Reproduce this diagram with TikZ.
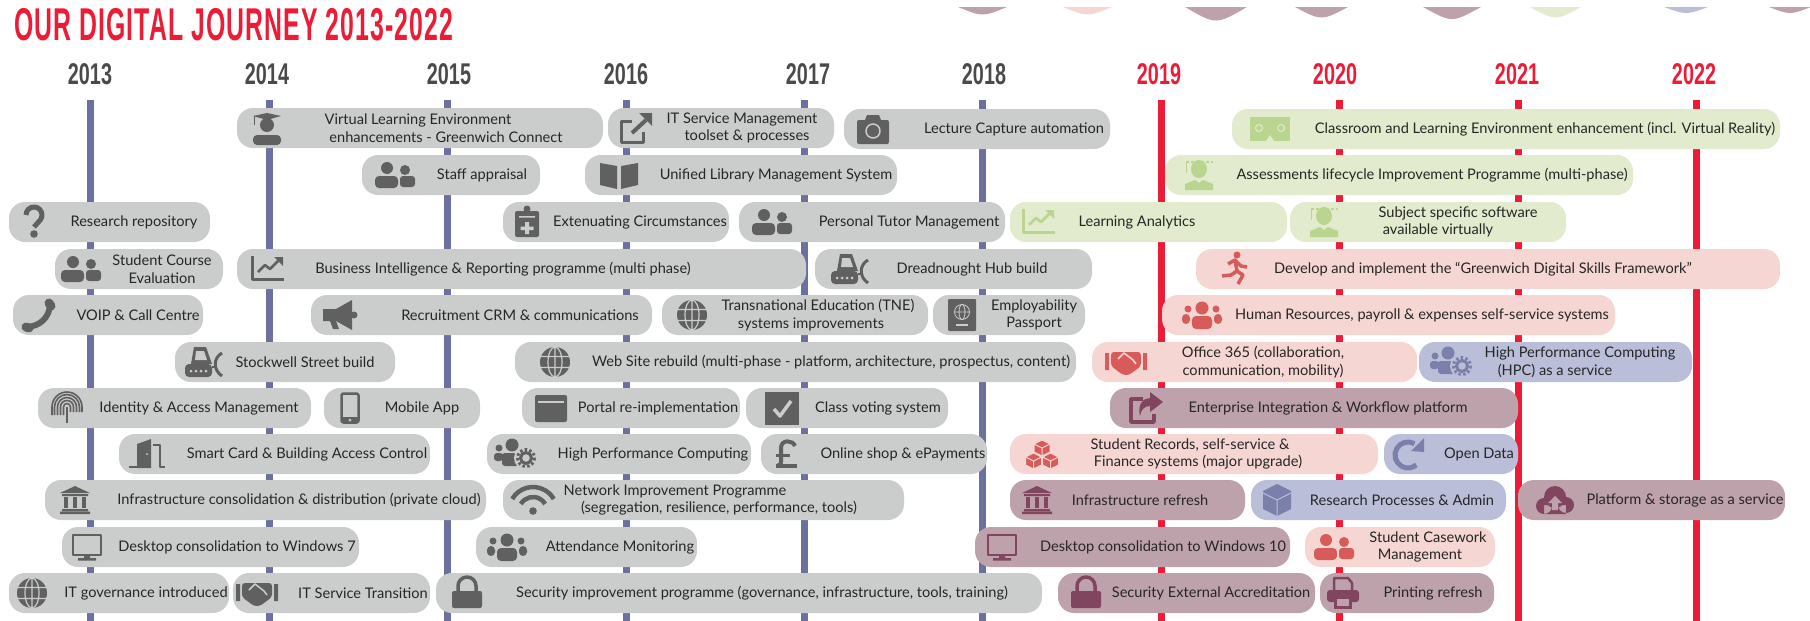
\documentclass[tikz,border=0pt]{standalone}
\usepackage{fontspec}
\setmainfont{Lato}
\newfontfamily\titlefont[FakeStretch=0.54,LetterSpace=2.3]{Liberation Sans}
\newfontfamily\yearfont[FakeStretch=0.66]{Liberation Sans}
\definecolor{linered}{HTML}{ED1C36}
\definecolor{lineblue}{HTML}{6B709F}
\definecolor{yeargrey}{HTML}{4A4A4A}
\definecolor{greyfill}{HTML}{CBCDCC}
\definecolor{greyink}{HTML}{606060}
\definecolor{greenfill}{HTML}{E2EBCD}
\definecolor{greenink}{HTML}{B9D58F}
\definecolor{pinkfill}{HTML}{F5D6D3}
\definecolor{pinkink}{HTML}{D75C59}
\definecolor{mauvefill}{HTML}{BEA2AB}
\definecolor{mauveink}{HTML}{824560}
\definecolor{bluefill}{HTML}{BABED8}
\definecolor{blueink}{HTML}{7B80AB}
\tikzset{
	pill/.style={rectangle,rounded corners=16pt,inner sep=0pt,minimum height=40pt},
	lbl/.style={inner sep=0pt,align=center,text=black!85,font=\fontsize{14.6}{17.5}\selectfont},
	duo/.pic={\fill[ink] (-8,-7) circle (6) (10,-5) circle (5);
		\fill[ink,rounded corners=4pt] (-20,1) rectangle (3,13);
		\fill[ink,rounded corners=3pt] (5,1) rectangle (20,12);},
	grad/.pic={\fill[ink] (-14,-12)--(0,-15)--(14,-12)--(0,-8)--cycle (0,-3) circle (7);
		\fill[ink,rounded corners=4pt] (-14,7) rectangle (14,17);
		\draw[ink] (-13,-12)--(-13,-3);},
	share/.pic={\draw[ink,line width=3pt] (-4,-7)--(-15,-7)--(-15,14)--(7,14)--(7,4);
		\draw[ink,line width=4pt] (-4,5)--(10,-8);
		\fill[ink] (3,-15)--(16,-15)--(16,-2)--cycle;},
	export/.pic={\draw[ink,line width=3.5pt] (-3,-9)--(-15,-9)--(-15,14)--(8,14)--(8,6);
		\fill[ink] (4,-16)--(17,-6)--(4,4)--(4,-2) .. controls (-2,-2) and (-5,2) .. (-6,8) .. controls (-9,-3) and (-3,-10) .. (4,-10)--cycle;},
	camera/.pic={\fill[ink,rounded corners=2pt] (-16,-9) rectangle (16,15);
		\fill[ink] (-8,-9)--(-6,-14)--(6,-14)--(8,-9)--cycle;
		\draw[paper,line width=1.5pt] (0,2) circle (7);},
	book/.pic={\fill[ink] (-19,-12)--(-2,-9)--(-2,14)--(-19,10)--cycle;
		\fill[ink] (19,-12)--(2,-9)--(2,14)--(19,10)--cycle;},
	query/.pic={\draw[ink,line width=5pt] (-8,-7) arc[start angle=180,end angle=400,radius=8]--(0,5);
		\fill[ink] (0,12) circle (3.8);},
	clipboard/.pic={\fill[ink,rounded corners=2pt] (-12,-11) rectangle (12,15);
		\fill[ink] (0,-13) circle (3.5);
		\fill[paper] (-8,-6) rectangle (8,-4.5) (-6.5,4.5) rectangle (6.5,8) (-2,0) rectangle (2,12);},
	chart/.pic={\draw[ink,line width=3pt] (-15,-13)--(-15,10)--(17,10);
		\draw[ink,line width=2.5pt] (-9,3)--(-2,-4)--(3,0)--(12,-9);
		\fill[ink] (7,-12)--(16,-12)--(16,-3)--cycle;},
	handset/.pic={\draw[ink,line width=6pt,line cap=round] (12,-10) .. controls (11,3) and (2,11) .. (-11,12);
		\draw[ink,line width=9pt,line cap=round] (11,-12)--(13,-9) (-12,12)--(-9,13);},
	horn/.pic={\fill[ink] (-17,-6)--(-4,-6)--(12,-15)--(12,15)--(-4,6)--(-17,6)--cycle;
		\fill[ink] (-10,6)--(-4,6)--(-1,14)--(-7,14)--cycle (14,0) circle (3.5);},
	dozer/.pic={\fill[ink] (-12,2)--(-9,-15)--(3,-15)--(9,2)--cycle;
		\fill[paper] (-7,-11)--(1,-11)--(4,-2)--(-8,-2)--cycle;
		\draw[ink,line width=2.5pt] (9,5)--(14,5);
		\fill[ink,rounded corners=4pt] (-18,2) rectangle (9,15);
		\foreach \a in {-12,-7,-2,3}{\fill[paper] (\a,9) circle (1.5);}
		\draw[ink,line width=3pt] (19,-9) .. controls (10,-4) and (10,8) .. (19,14);},
	globe/.pic={\fill[ink] (0,0) circle (15);
		\draw[paper,line width=1.2pt] (0,0) ellipse (7 and 15) (-15,-5.5)--(15,-5.5) (-15,5.5)--(15,5.5) (0,-15)--(0,15);},
	print/.pic={\foreach \r in {3.5,6.5,9.5,12.5,15}{\draw[ink,line width=1.6pt] (-\r,7)--(-\r,-1) arc[start angle=180,end angle=360,radius=\r]--(\r,4);}
		\draw[ink,line width=1.6pt] (0,-1)--(0,15);},
	handy/.pic={\draw[ink,line width=2.5pt,rounded corners=2pt] (-8.5,-14.5) rectangle (8.5,14.5);
		\fill[ink] (-8,9) rectangle (8,15);
		\fill[paper] (0,12) circle (1.5);},
	window/.pic={\fill[ink,rounded corners=2pt] (-16,-13) rectangle (16,14);
		\fill[paper] (-13,-7) rectangle (13,-5.5);},
	tick/.pic={\fill[ink] (-17,-16) rectangle (17,17);
		\draw[paper,line width=3.5pt] (-8,1)--(-2,8)--(9,-7);},
	crew/.pic={\fill[ink] (-3,-9) circle (6.5) (-16,-6) circle (3.5);
		\fill[ink,rounded corners=3pt] (-13,-1) rectangle (4,12) (-21,-1) rectangle (-12,7);
		\fill[paper] (11,4) circle (12);
		\draw[ink,line width=3pt,dash pattern=on 2.5pt off 2.3pt] (11,4) circle (8.5);
		\draw[ink,line width=3pt] (11,4) circle (5.5);},
	pound/.pic={\draw[ink,line width=4pt] (9,-8) .. controls (7,-14) and (-5,-15) .. (-5,-6)--(-5,8) .. controls (-5,10) .. (-9,12);
		\draw[ink,line width=3pt] (-10,1)--(4,1);
		\draw[ink,line width=4.5pt] (-10,12)--(11,12);},
	wifi/.pic={\foreach \r in {14,24}{\draw[ink,line width=4.5pt] (0,11) ++(210:\r) arc[start angle=210,end angle=330,radius=\r];}
		\fill[ink] (0,11) circle (3.8);},
	group/.pic={\fill[ink] (0,-7) circle (6.5) (-14,-6) circle (3.5) (14,-6) circle (3.5);
		\fill[ink,rounded corners=4pt] (-10,1) rectangle (10,14) (-20,-1) rectangle (-12,9) (12,-1) rectangle (20,9);},
	padlock/.pic={\fill[ink,rounded corners=2pt] (-15,-2) rectangle (15,15);
		\draw[ink,line width=3.5pt] (-9,-2)--(-9,-7) arc[start angle=180,end angle=360,radius=9]--(9,-2);},
	shake/.pic={\fill[ink] (-21,-9) rectangle (-17,8) (17,-9) rectangle (21,8);
		\fill[ink,rounded corners=3pt] (-15,-10)--(15,-10)--(15,4)--(3,13)--(-3,13)--(-15,4)--cycle;
		\draw[paper,line width=1.5pt] (-8,-3)--(-2,-9)--(7,-2)--(10,2);},
	door/.pic={\fill[ink] (-10,14)--(-10,-10)--(4,-15)--(4,14)--cycle;
		\draw[ink,line width=2.5pt] (-18,13)--(-8,13) (6,-9)--(13,-9)--(13,13)--(18,13);
		\fill[paper] (0,0) circle (1);},
	bank/.pic={\fill[ink] (-15,-7)--(0,-14)--(15,-7)--cycle (-13,-6) rectangle (13,-4) (-13,9) rectangle (13,11) (-15,11.5) rectangle (15,14);
		\foreach \a in {-9,0,9}{\fill[ink] ({\a-2},-3) rectangle ({\a+2},8);}},
	monitor/.pic={\draw[ink,line width=2.5pt] (-14,-12) rectangle (14,8);
		\fill[ink] (-3,8) rectangle (3,11) (-9,11) rectangle (9,13.5);},
	passport/.pic={\fill[ink,rounded corners=1pt] (-14,-16) rectangle (14,16);
		\draw[paper,line width=.8pt] (0,-3) circle (7.5) (0,-3) ellipse (3 and 7.5) (-7.5,-3)--(7.5,-3);
		\fill[paper] (-6,9) rectangle (6,10.5);},
	cubes/.pic={\foreach \a/\b in {0/-6,-8.5/7,8.5/7}{
			\begin{scope}[shift={(\a,\b)}]
			\fill[ink,draw=paper,line width=1pt] (0,-8)--(8,-4)--(8,4)--(0,8)--(-8,4)--(-8,-4)--cycle;
			\draw[paper,line width=1pt] (-8,-4)--(0,0)--(8,-4) (0,0)--(0,8);
			\end{scope}}},
	renew/.pic={\draw[ink,line width=5pt] (6.5,-10.3) arc[start angle=300,end angle=50,radius=13];
		\fill[ink] (16,-16)--(16,-2)--(3,-3)--cycle;},
	carton/.pic={\fill[ink] (0,-16)--(14,-9)--(14,9)--(0,16)--(-14,9)--(-14,-9)--cycle;
		\draw[paper,line width=1pt] (-14,-7)--(0,0)--(14,-7) (0,0)--(0,16);},
	cloud/.pic={\fill[ink] (-11,6) circle (8) (0,-3) circle (11) (11,5) circle (8) (-11,5) rectangle (11,14);
		\fill[paper] (0,-4)--(7,3)--(3,3)--(3,10)--(-3,10)--(-3,3)--(-7,3)--cycle;},
	printer/.pic={\draw[ink,line width=2.5pt] (-9,-3)--(-9,-15)--(5,-15)--(9,-10)--(9,-3);
		\fill[ink,rounded corners=3pt] (-16,-3) rectangle (16,9);
		\fill[ink] (-9,9) rectangle (9,16);
		\fill[paper] (-6,6) rectangle (6,13);},
	runner/.pic={\fill[ink] (2,-14) circle (3.5);
		\draw[ink,line width=3.5pt,line join=round] (-7,-5)--(0,-9)--(2,2)--(-4,6)--(-13,7) (2,2)--(8,6)--(3,15) (0,-9)--(6,-3)--(12,-2);},
	goggles/.pic={\fill[ink] (-20,-12) rectangle (20,12);
		\draw[paper,line width=1pt] (-11,-1) circle (3.5) (11,-1) circle (3.5);
		\fill[paper] (-4,12)--(0,6)--(4,12)--cycle;},
	avatar/.pic={\fill[ink] (0,-6) ellipse (8 and 9) (-14,15)--(-14,9)--(-4,5)--(0,8)--(4,5)--(14,9)--(14,15)--cycle;
		\draw[ink,line width=2pt,dash pattern=on 3pt off 2pt] (-13,-13)--(14,-13);
		\draw[ink] (-13,-12)--(-13,-2);},
}
% name, left, right, y, colour, icon, icon x, text x, text
\newcommand\pill[9]{
	\colorlet{ink}{#5ink}\colorlet{paper}{#5fill}
	\node[pill,fill=#5fill,minimum width={(#3-#2)*1pt}] (#1) at ({(#2+#3)/2},#4) {};
	\pic at (#7,#4) {#6};
	\node[lbl] (#1txt) at (#8,#4) {#9};
}
\begin{document}
\begin{tikzpicture}[x=1pt,y=-1pt,line join=round]
	\useasboundingbox (0,0) rectangle (1810,621);
	\node[anchor=west,inner sep=0pt,text=linered,font=\titlefont\bfseries\fontsize{46}{46}\selectfont] (title) at (14,25) {OUR DIGITAL JOURNEY 2013-2022};
	\foreach \a/\b/\s/\c in {958/1007/5/mauve,1063/1112/5/pink,1185/1247/9/mauve,1295/1348/7/mauve,1423/1481/8/mauve,1530/1581/7/green,1664/1708/4/blue,1769/1811/4/mauve}{
		\fill[\c fill] (\a,7) .. controls ({(\a+\b)/2},{7+2*\s}) .. (\b,7)--cycle;
	}
	\foreach \yr/\x/\lx/\c/\t in {2013/90/90/lineblue/yeargrey,2014/269/267/lineblue/yeargrey,2015/447/449/lineblue/yeargrey,2016/626/626/lineblue/yeargrey,2017/804/808/lineblue/yeargrey,2018/982/984/lineblue/yeargrey,2019/1161/1159/linered/linered,2020/1339/1335/linered/linered,2021/1518/1517/linered/linered,2022/1696/1694/linered/linered}{
		\draw[\c,line width=7pt] (\x,100)--(\x,621);
		\node[inner sep=0pt,text=\t,font=\yearfont\bfseries\fontsize{30}{30}\selectfont] (y\yr) at (\lx,74) {\yr};
	}
	% row 1
	\pill{vle}{237}{603}{128}{grey}{grad}{267}{418}{Virtual Learning Environment\\\hspace*{56pt}enhancements - Greenwich Connect}
	\pill{itsm}{608}{834}{128}{grey}{share}{636}{742}{IT Service Management\\\hspace*{10pt}toolset \& processes}
	\pill{lecture}{844}{1110}{129}{grey}{camera}{873}{1014}{Lecture Capture automation}
	\pill{classroom}{1232}{1780}{129}{green}{goggles}{1270}{1545}{Classroom and Learning Environment enhancement (incl. Virtual Reality)}
	% row 2
	\pill{staff}{362}{540}{175}{grey}{duo}{395}{482}{Staff appraisal}
	\pill{library}{585}{897}{175}{grey}{book}{619}{776}{Unified Library Management System}
	\pill{assess}{1165}{1633}{175}{green}{avatar}{1199}{1432}{Assessments lifecycle Improvement Programme (multi-phase)}
	% row 3
	\pill{repo}{9}{210}{222}{grey}{query}{34}{134}{Research repository}
	\pill{exten}{503}{729}{222}{grey}{clipboard}{527}{640}{Extenuating Circumstances}
	\pill{tutor}{739}{1005}{222}{grey}{duo}{772}{909}{Personal Tutor Management}
	\pill{analytics}{1010}{1287}{222}{green}{chart}{1038}{1137}{Learning Analytics}
	\pill{subject}{1290}{1566}{222}{green}{avatar}{1324}{1438}{\hspace*{40pt}Subject specific software\\available virtually}
	% row 4
	\pill{course}{55}{223}{269}{grey}{duo}{81}{162}{Student Course\\Evaluation}
	\pill{bi}{237}{806}{269}{grey}{chart}{267}{503}{Business Intelligence \& Reporting programme (multi phase)}
	\pill{hub}{815}{1092}{269}{grey}{dozer}{849}{972}{Dreadnought Hub build}
	\pill{skills}{1196}{1780}{269}{pink}{runner}{1235}{1483}{Develop and implement the ``Greenwich Digital Skills Framework''}
	% row 5
	\pill{voip}{13}{203}{315}{grey}{handset}{38}{138}{VOIP \& Call Centre}
	\pill{crm}{311}{652}{315}{grey}{horn}{340}{520}{Recruitment CRM \& communications}
	\pill{tne}{662}{928}{315}{grey}{globe}{692}{811}{\hspace*{14pt}Transnational Education (TNE)\\systems improvements}
	\pill{employ}{933}{1085}{315}{grey}{passport}{962}{1034}{Employability\\Passport}
	\pill{hr}{1162}{1615}{315}{pink}{group}{1202}{1422}{Human Resources, payroll \& expenses self-service systems}
	% row 6
	\pill{stockwell}{175}{395}{362}{grey}{dozer}{203}{305}{Stockwell Street build}
	\pill{website}{515}{1076}{362}{grey}{globe}{555}{831}{Web Site rebuild (multi-phase - platform, architecture, prospectus, content)}
	\pill{office}{1092}{1417}{362}{pink}{shake}{1126}{1263}{Office 365 (collaboration,\\communication, mobility)}
	\pill{hpcsrv}{1419}{1692}{362}{blue}{crew}{1451}{1555}{\hspace*{50pt}High Performance Computing\\(HPC) as a service}
	% row 7
	\pill{identity}{38}{311}{408}{grey}{print}{67}{199}{Identity \& Access Management}
	\pill{mobile}{324}{480}{408}{grey}{handy}{350}{422}{Mobile App}
	\pill{portal}{522}{740}{408}{grey}{window}{551}{658}{Portal re-implementation}
	\pill{voting}{746}{948}{408}{grey}{tick}{782}{878}{Class voting system}
	\pill{enterprise}{1110}{1518}{408}{mauve}{export}{1146}{1328}{Enterprise Integration \& Workflow platform}
	% row 8
	\pill{smart}{119}{430}{454}{grey}{door}{147}{307}{Smart Card \& Building Access Control}
	\pill{hpc}{487}{751}{454}{grey}{crew}{515}{653}{High Performance Computing}
	\pill{shop}{761}{987}{454}{grey}{pound}{786}{903}{Online shop \& ePayments}
	\pill{records}{1010}{1378}{454}{pink}{cubes}{1042}{1190}{Student Records, self-service \&\\\hspace*{16pt}Finance systems (major upgrade)}
	\pill{opendata}{1384}{1518}{454}{blue}{renew}{1408}{1479}{Open Data}
	% row 9
	\pill{infra}{45}{486}{500}{grey}{bank}{75}{299}{Infrastructure consolidation \& distribution (private cloud)}
	\pill{network}{503}{904}{500}{grey}{wifi}{533}{675}{Network Improvement Programme\\\hspace*{88pt}(segregation, resilience, performance, tools)}
	\pill{refresh}{1010}{1245}{500}{mauve}{bank}{1037}{1140}{Infrastructure refresh}
	\pill{procs}{1251}{1506}{500}{blue}{carton}{1277}{1402}{Research Processes \& Admin}
	\pill{platform}{1518}{1785}{500}{mauve}{cloud}{1555}{1685}{Platform \& storage as a service}
	% row 10
	\pill{winseven}{62}{359}{547}{grey}{monitor}{87}{237}{Desktop consolidation to Windows 7}
	\pill{attend}{476}{697}{547}{grey}{group}{507}{620}{Attendance Monitoring}
	\pill{winten}{975}{1290}{547}{mauve}{monitor}{1002}{1163}{Desktop consolidation to Windows 10}
	\pill{casework}{1305}{1495}{547}{pink}{duo}{1334}{1420}{\hspace*{16pt}Student Casework\\Management}
	% row 11
	\pill{gov}{9}{229}{593}{grey}{globe}{32}{146}{IT governance introduced}
	\pill{transition}{233}{430}{593}{grey}{shake}{257}{363}{IT Service Transition}
	\pill{security}{436}{1042}{593}{grey}{padlock}{467}{762}{Security improvement programme (governance, infrastructure, tools, training)}
	\pill{accred}{1058}{1315}{593}{mauve}{padlock}{1086}{1211}{Security External Accreditation}
	\pill{printing}{1320}{1494}{593}{mauve}{printer}{1343}{1433}{Printing refresh}
\end{tikzpicture}
\end{document}
